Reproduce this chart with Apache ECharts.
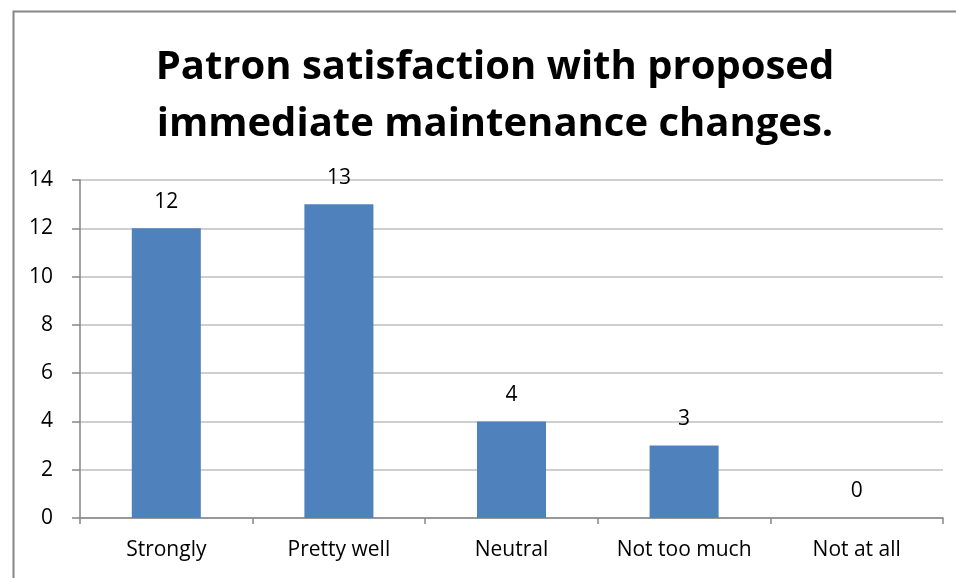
<!DOCTYPE html>
<html>
<head>
<meta charset="utf-8">
<script src="https://cdn.jsdelivr.net/npm/echarts@6/dist/echarts.min.js"></script>
<style>
  html, body { margin: 0; padding: 0; background: #fff; }
  #main { width: 956px; height: 578px; }
</style>
</head>
<body>
<div id="main"></div>
<script>
// chart data
var categories = ["Strongly", "Pretty well", "Neutral", "Not too much", "Not at all"];
var responses = [12, 13, 4, 3, 0];
var titleText = "Patron satisfaction with proposed\nimmediate maintenance changes.";

var font = "'Open Sans', Lato, sans-serif";
var chart = echarts.init(document.getElementById("main"));

chart.setOption({
  animation: false,
  backgroundColor: "#fff",
  title: {
    text: titleText,
    left: 490,
    top: 34,
    textAlign: "center",
    textStyle: {
      fontFamily: font,
      fontWeight: "bold",
      fontSize: 40,
      lineHeight: 57,
      color: "#000"
    }
  },
  // outer chart border (cropped on right and bottom)
  graphic: [{
    type: "rect",
    left: 11,
    top: 9,
    shape: { width: 1000, height: 1000 },
    style: { fill: "none", stroke: "#868686", lineWidth: 2 },
    silent: true
  }],
  grid: { left: 80, right: 13, top: 180, bottom: 60 },
  xAxis: {
    type: "category",
    data: categories,
    axisLine: { lineStyle: { color: "#868686", width: 1.5 } },
    axisTick: { show: true, length: 6, alignWithLabel: false, lineStyle: { color: "#868686", width: 1.5 } },
    axisLabel: { color: "#000", fontFamily: font, fontSize: 21, margin: 22, interval: 0 }
  },
  yAxis: {
    type: "value",
    min: 0,
    max: 14,
    interval: 2,
    axisLine: { show: true, lineStyle: { color: "#868686", width: 1.5 } },
    axisTick: { show: true, length: 8, lineStyle: { color: "#868686", width: 1.5 } },
    axisLabel: { color: "#000", fontFamily: font, fontSize: 21, margin: 27 },
    splitLine: { lineStyle: { color: "#bfbfbf", width: 1.5 } }
  },
  series: [{
    type: "bar",
    data: responses,
    barWidth: "40%",
    itemStyle: { color: "#4f81bd" },
    label: {
      show: true,
      position: "top",
      distance: 16,
      color: "#000",
      fontFamily: font,
      fontSize: 21
    }
  }]
});
</script>
</body>
</html>
